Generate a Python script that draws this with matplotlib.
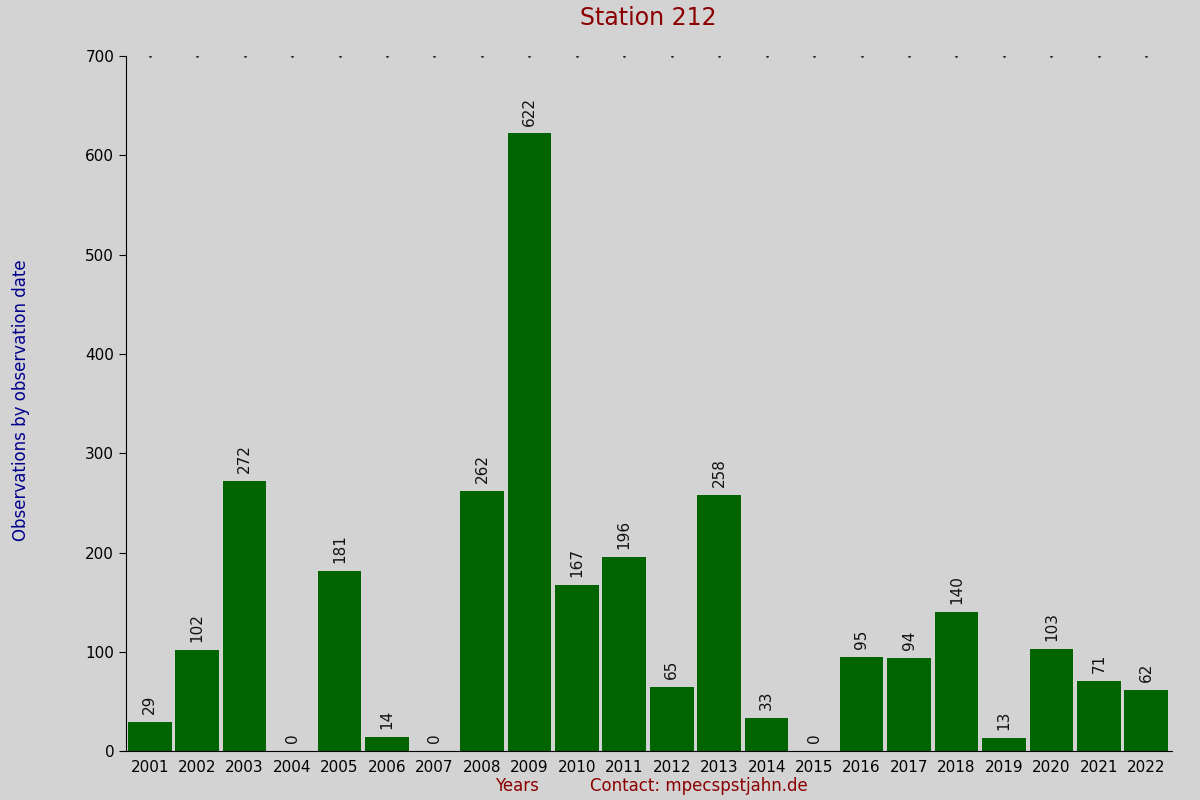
import matplotlib
matplotlib.use("Agg")
import matplotlib.pyplot as plt

years = [str(y) for y in range(2001, 2023)]
values = [29, 102, 272, 0, 181, 14, 0, 262, 622, 167, 196, 65, 258, 33, 0, 95, 94, 140, 13, 103, 71, 62]

bg = "#d3d3d3"
fig = plt.figure(figsize=(12, 8), dpi=100, facecolor=bg)
ax = fig.add_axes([0.105, 0.061, 0.872, 0.869], facecolor=bg)
x = list(range(len(years)))
ax.bar(x, values, width=0.92, color="#006400")
for xi, v in zip(x, values):
    ax.text(xi, v + 8, str(v), rotation=90, ha="center", va="bottom", fontsize=11, color="#111111")
ax.plot(x, [700] * len(x), linestyle="none", marker="o", markersize=1, color="#333333")
ax.set_xlim(-0.5, len(x) - 0.45)
ax.set_ylim(0, 700)
ax.set_xticks(x)
ax.set_xticklabels(years, fontsize=11)
ax.set_yticks(range(0, 701, 100))
ax.tick_params(axis="y", labelsize=11, length=5)
ax.tick_params(axis="x", length=0, pad=6)
for s in ["top", "right"]:
    ax.spines[s].set_visible(False)
fig.text(0.54, 0.977, "Station 212", ha="center", va="center", fontsize=17, color="#8b0000")
fig.text(0.01, 0.5, "Observations by observation date", rotation=90, ha="left", va="center", fontsize=12, color="#00008b")
fig.text(0.431, 0.017, "Years", ha="center", va="center", fontsize=12, color="#8b0000")
fig.text(0.582, 0.017, "Contact: mpecspstjahn.de", ha="center", va="center", fontsize=12, color="#8b0000")
fig.savefig("out.png", dpi=100, facecolor=bg)
